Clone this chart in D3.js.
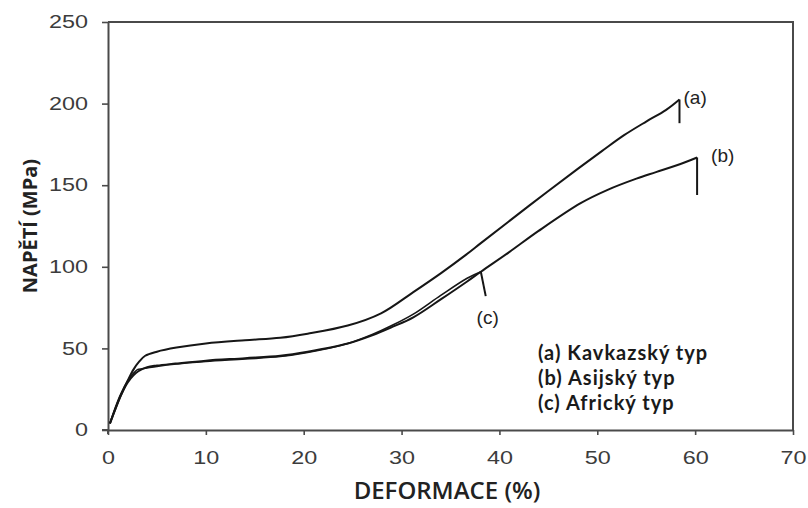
<!DOCTYPE html>
<html><head><meta charset="utf-8">
<script src="https://cdn.jsdelivr.net/npm/d3@7"></script>
<style>
html,body{margin:0;padding:0;background:#fff;}
svg{display:block;}
</style></head>
<body>
<script>
// ---- data ----
const xTicks = [0,10,20,30,40,50,60,70];
const yTicks = [0,50,100,150,200,250];
const xTitle = "DEFORMACE (%)";
const yTitle = "NAPĚTÍ (MPa)";
const seriesNames = ["(a) Kavkazský typ","(b) Asijský typ","(c) Africký typ"];
const curveLabels = ["(a)","(b)","(c)"];
// strain (%)
const aX = [0.2,0.7,1.3,2,2.6,3.2,3.8,5,7,10,14,17.6,20.4,24.5,27.9,31.2,34,36.5,38.1,41,44.9,48,50.5,52.7,55,57,58.4];
// stress (MPa)
const aY = [4,12,21,30,37,42,45.5,48,50.5,53,55,56.5,59,64,71.5,84.5,96,107,114.5,128,146,160,171,180.5,189,196,202.5];
const aDropY = 188;
const bX = [0.2,0.7,1.3,2,2.6,3.1,4,5,6.9,10,14,17.6,20.4,24.5,27,29,31.2,34,36.7,38.1,41,44,48.3,51,54,56,58.5,60.2];
const bY = [4,12,21,29,33.5,36,38.5,39.5,40.7,42.5,44,45.5,48,53,58,63,69,80,91,97,109,122,139,147,154,158,163,167];
const bDropY = 144;
const cX = [0.2,0.7,1.3,2,2.5,3,3.5,4,5,7,10,14,17.6,20.4,24.5,27,29,31.2,34,36.7,38.1];
const cY = [4,13,22,30,34,37,37.5,38,39,40.5,42,43.5,45,47.5,53,58.5,64,71,82.5,93,97];
const cPointerX = [38.1,38.6];
const cPointerY = [97,82];

const W=808,H=508;
const svg=d3.select("body").append("svg").attr("width",W).attr("height",H);
const L=108,R=793,T=22,B=430;
const x=d3.scaleLinear().domain([0,70]).range([L,R]);
const y=d3.scaleLinear().domain([0,250]).range([B,T]);

const frameCol="#4a4a4a";
svg.append("path").attr("d",`M${L},${T}H${R}V${B}`).attr("fill","none").attr("stroke",frameCol).attr("stroke-width",2);

const tickFont="Liberation Sans, Arial, sans-serif";
const sx=1.3;
const xa=svg.append("g").attr("transform",`translate(0,${B})`)
  .call(d3.axisBottom(x).tickValues(xTicks).tickSize(5).tickPadding(16).tickSizeOuter(0).tickFormat(d3.format("d")));
const ya=svg.append("g").attr("transform",`translate(${L},0)`)
  .call(d3.axisLeft(y).tickValues(yTicks).tickSize(6).tickPadding(14).tickSizeOuter(0).tickFormat(d3.format("d")));
[xa,ya].forEach(g=>{
  g.select(".domain").attr("stroke",frameCol).attr("stroke-width",2);
  g.selectAll(".tick line").attr("stroke",frameCol).attr("stroke-width",1.6);
  g.selectAll(".tick text").attr("fill","#3c3c3c").style("font-family",tickFont).style("font-size","18px");
});
xa.selectAll(".tick text").attr("transform",`scale(${sx},1)`);
ya.selectAll(".tick text").attr("x",-20/sx).attr("transform",`scale(${sx},1)`);

svg.append("line").attr("x1",L-6).attr("x2",L).attr("y1",B).attr("y2",B).attr("stroke",frameCol).attr("stroke-width",2);
svg.append("line").attr("x1",L).attr("x2",L).attr("y1",B).attr("y2",B+4).attr("stroke",frameCol).attr("stroke-width",2);

const line=d3.line().x(d=>x(d[0])).y(d=>y(d[1])).curve(d3.curveCatmullRom.alpha(0.5));
const straight=d3.line().x(d=>x(d[0])).y(d=>y(d[1]));
const ink="#161616";
const series=[d3.zip(aX,aY),d3.zip(bX,bY),d3.zip(cX,cY)];
series.forEach((s,i)=>{
  svg.append("path").datum(s).attr("d",line).attr("fill","none").attr("stroke",ink).attr("stroke-width",i==2?1.6:2).attr("stroke-linejoin","round");
});
const aEnd=aX[aX.length-1], bEnd=bX[bX.length-1];
svg.append("path").datum([[aEnd,aY[aY.length-1]],[aEnd,aDropY]]).attr("d",straight).attr("stroke",ink).attr("stroke-width",2).attr("fill","none");
svg.append("path").datum([[bEnd,bY[bY.length-1]],[bEnd,bDropY]]).attr("d",straight).attr("stroke",ink).attr("stroke-width",2).attr("fill","none");
svg.append("path").datum(d3.zip(cPointerX,cPointerY)).attr("d",straight).attr("stroke",ink).attr("stroke-width",2).attr("fill","none");

// curve labels
svg.append("text").attr("x",x(aEnd)+4).attr("y",y(203)+5).text(curveLabels[0]).attr("font-family",tickFont).attr("font-size",19).attr("fill","#222");
svg.append("text").attr("x",x(bEnd)+14).attr("y",y(167)+5).text(curveLabels[1]).attr("font-family",tickFont).attr("font-size",19).attr("fill","#222");
svg.append("text").attr("x",x(38.8)).attr("y",y(82)+28).attr("text-anchor","middle").text(curveLabels[2]).attr("font-family",tickFont).attr("font-size",19).attr("fill","#222");

// legend
const leg=svg.append("g").attr("font-family","Lato, sans-serif").attr("font-weight",700).attr("font-size",20).attr("letter-spacing",1).attr("fill","#1a1a1a");
seriesNames.forEach((n,i)=>leg.append("text").attr("x",538).attr("y",360+i*25).text(n));

// titles
svg.append("text").attr("x",447).attr("y",499).attr("text-anchor","middle").text(xTitle)
  .attr("font-family","Open Sans, sans-serif").attr("font-weight",600).attr("font-size",24).attr("fill","#222");
svg.append("text").attr("transform",`translate(37,${(T+B)/2})rotate(-90)`).attr("text-anchor","middle").text(yTitle)
  .attr("font-family","Open Sans, sans-serif").attr("font-weight",700).attr("font-size",20).attr("fill","#222");
</script>
</body></html>
